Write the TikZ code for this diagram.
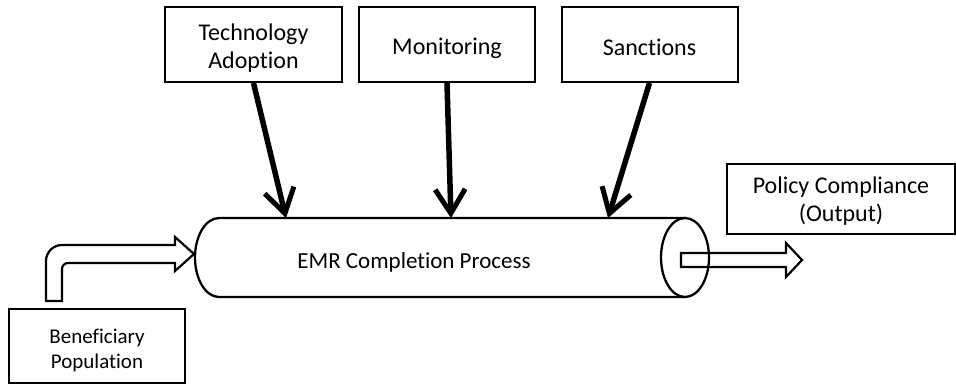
\documentclass[tikz,border=0pt]{standalone}
\usepackage{fontspec}
\setmainfont[Ligatures=NoCommon]{Carlito}
\usetikzlibrary{arrows.meta}
\begin{document}
\begin{tikzpicture}[x=1pt,y=-1pt,
  inbox/.style={draw,line width=2pt,inner sep=0pt},
  boxtext/.style={align=center,inner sep=0pt,font=\fontsize{24}{28}\selectfont},
  feed/.style={line width=5.5pt,-{Straight Barb[length=24pt,width=30pt,line width=5pt]}},
  hollow/.style={draw,line width=2.2pt,line join=miter}]
\useasboundingbox (0,0) rectangle (956,384);

% input boxes along the top
\node[inbox,minimum width=177pt,minimum height=75pt] (tech) at (253.5,44.5) {};
\node[inbox,minimum width=176pt,minimum height=75pt] (mon)  at (447,44.5) {};
\node[inbox,minimum width=176pt,minimum height=75pt] (sanc) at (649.5,44.5) {};
\node[boxtext] (techtxt) at ([yshift=-4pt]tech.center) {Technology\\Adoption};
\node[boxtext] (montxt)  at ([yshift=-4pt]mon.center) {Monitoring};
\node[boxtext] (sanctxt) at ([yshift=-3pt]sanc.center) {Sanctions};

% process cylinder
\coordinate (ptl) at (219,218);
\coordinate (pbl) at (219,297);
\coordinate (ptr) at (685,218);
\coordinate (pbr) at (685,297);
\coordinate (pc)  at (685,257.5);
\draw[line width=2.3pt] (ptl) -- (ptr) (pbl) -- (pbr)
  (ptl) arc[start angle=-90,end angle=-270,x radius=24pt,y radius=-39.5pt];
\draw[line width=2.3pt] (pc) ellipse[x radius=24pt,y radius=39.5pt];
\node[font=\fontsize{23}{28}\selectfont] (proc) at (414,262) {EMR Completion Process};

% where the influences meet the process
\coordinate (tin) at (286,218);
\coordinate (min) at (451,218);
\coordinate (sin) at (608,218);
\draw[feed] (tech.south) -- (tin);
\draw[feed] (mon.south) -- (min);
\draw[feed] (sanc.south) -- (sin);

% population box and bent feed arrow
\node[inbox,minimum width=176pt,minimum height=74pt] (pop) at (97,346) {};
\node[boxtext,font=\fontsize{21}{25}\selectfont] (poptxt) at ([yshift=-4pt]pop.center) {Beneficiary\\Population};
\coordinate (popbase) at (46,301);
\coordinate (popin) at (194,254);
\draw[hollow] (popbase) -- (46,261) arc[start angle=180,end angle=90,radius=16pt]
  -- (175,245) -- (175,237) -- (popin) -- (175,271) -- (175,263)
  -- (68,263) arc[start angle=90,end angle=180,radius=6pt] -- (62,301) -- cycle;

% output arrow and its label
\coordinate (outbase) at (681,260);
\coordinate (outtip) at (802,260);
\draw[hollow] (outbase) ++(0,-7) -- (786,253) -- (786,243) -- (outtip) -- (786,277) -- (786,267) -- (681,267) -- cycle;
\node[draw,line width=1.2pt,minimum width=228pt,minimum height=70pt,inner sep=0pt] (out) at (841,199) {};
\node[boxtext] (outtxt) at ([yshift=-2pt]out.center) {Policy Compliance\\(Output)};
\end{tikzpicture}
\end{document}
